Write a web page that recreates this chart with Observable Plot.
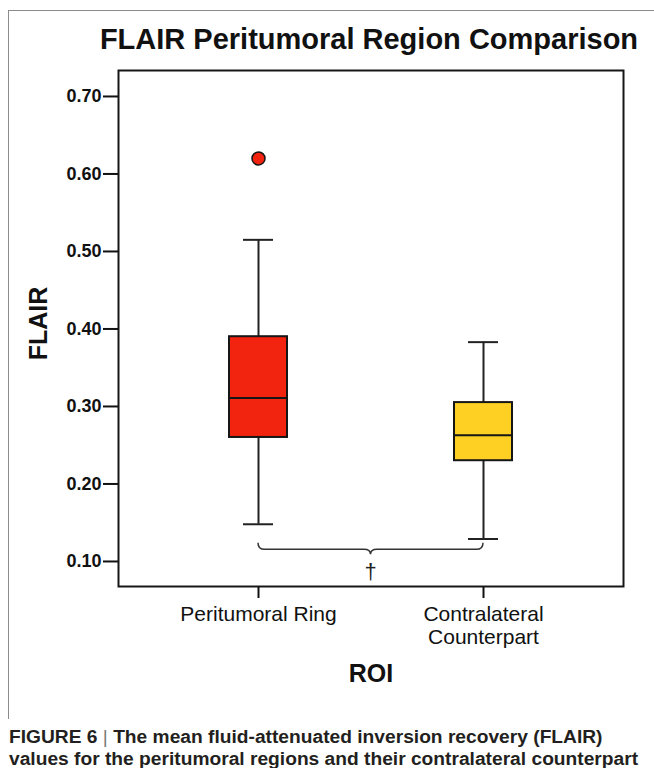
<!DOCTYPE html>
<html>
<head>
<meta charset="utf-8">
<script src="https://cdn.jsdelivr.net/npm/d3@7"></script>
<script src="https://cdn.jsdelivr.net/npm/@observablehq/plot@0.6"></script>
<style>
  html, body { margin: 0; padding: 0; background: #fff; }
  #page { position: relative; width: 654px; height: 768px; overflow: hidden; background: #fff; font-family: "Liberation Sans", Arial, Helvetica, sans-serif; }
  #chart { position: absolute; left: 0; top: 60px; }
  #border { position: absolute; left: 8px; top: 10px; width: 700px; height: 708px; border-top: 1px solid #8c8c8c; border-left: 1px solid #8c8c8c; }
  #title { position: absolute; left: 60px; width: 618px; top: 22px; text-align: center; font-weight: bold; font-size: 29px; line-height: 34px; color: #111; white-space: nowrap; }
  #caption { position: absolute; left: 9px; top: 726px; font-weight: bold; font-size: 19.2px; line-height: 22px; color: #231f20; white-space: nowrap; }
  #caption .bar { font-weight: normal; color: #777; }
</style>
</head>
<body>
<div id="page">
  <div id="chart"></div>
  <div id="border"></div>
  <div id="title">FLAIR Peritumoral Region Comparison</div>
  <div id="caption">FIGURE 6 <span class="bar">|</span> The mean fluid-attenuated inversion recovery (FLAIR)<br>values for the peritumoral regions and their contralateral counterpart</div>
</div>
<script>
// ---- data ----
const categories = ["Peritumoral Ring", "Contralateral Counterpart"];
const tickLabels = ["Peritumoral Ring", "Contralateral\nCounterpart"];
const whiskerLow = [0.148, 0.129];
const q1 = [0.260, 0.230];
const median = [0.311, 0.263];
const q3 = [0.390, 0.305];
const whiskerHigh = [0.515, 0.383];
const outlierCategory = ["Peritumoral Ring"];
const outlierValue = [0.620];
const boxColors = ["#F2230F", "#FDD023"];
const yTicks = [0.10, 0.20, 0.30, 0.40, 0.50, 0.60, 0.70];
const yDomain = [0.0677, 0.7335];
// significance brace (y values in data units) and marker
const braceEndY = 0.1236;
const braceMidY = 0.1151;
const braceTipY = 0.1086;
const markerY = 0.0862;
const markerText = "†";

const boxes = categories.map((c, i) => ({
  cat: c, lo: whiskerLow[i], q1: q1[i], med: median[i], q3: q3[i], hi: whiskerHigh[i], color: boxColors[i]
}));
const outliers = outlierCategory.map((c, i) => ({cat: c, v: outlierValue[i]}));

const plot = Plot.plot({
  width: 654,
  height: 640,
  marginTop: 10,
  marginLeft: 118,
  marginRight: 31,
  marginBottom: 114,
  style: {background: "transparent", fontFamily: "'Liberation Sans', Arial, Helvetica, sans-serif", color: "#111"},
  x: {domain: categories, paddingInner: 0.743, paddingOuter: 0.489, align: 0.5},
  y: {domain: yDomain},
  marks: [
    Plot.frame({stroke: "#161616", strokeWidth: 2}),
    Plot.axisY({ticks: yTicks, tickFormat: d3.format(".2f"), tickSize: 15, tickPadding: 2, fontSize: 18, fontWeight: "bold", strokeWidth: 2, label: null}),
    Plot.axisX({tickFormat: (d) => tickLabels[categories.indexOf(d)], tickSize: 12, tickPadding: 5, fontSize: 21, lineHeight: 1.14, strokeWidth: 2, label: null}),
    Plot.ruleX(boxes, {x: "cat", y1: "lo", y2: "hi", stroke: "#222", strokeWidth: 2}),
    Plot.tickY(boxes, {x: "cat", y: "lo", stroke: "#222", strokeWidth: 2, insetLeft: 14, insetRight: 14}),
    Plot.tickY(boxes, {x: "cat", y: "hi", stroke: "#222", strokeWidth: 2, insetLeft: 14, insetRight: 14}),
    Plot.barY(boxes, {x: "cat", y1: "q1", y2: "q3", fill: "color", stroke: "#161616", strokeWidth: 2}),
    Plot.tickY(boxes, {x: "cat", y: "med", stroke: "#161616", strokeWidth: 2}),
    Plot.dot(outliers, {x: "cat", y: "v", r: 6.5, fill: boxColors[0], stroke: "#161616", strokeWidth: 1.5}),
    Plot.text(["FLAIR"], {frameAnchor: "left", textAnchor: "middle", rotate: -90, dx: -80, dy: -5, fontSize: 25, fontWeight: "bold", fill: "#111"}),
    Plot.text(["ROI"], {frameAnchor: "bottom", dy: 95, fontSize: 25, fontWeight: "bold", fill: "#111"})
  ]
});
document.getElementById("chart").appendChild(plot);

// significance brace drawn through the plot's own scales
const xs = plot.scale("x"), ys = plot.scale("y");
const bw = xs.bandwidth;
const xa = xs.apply(categories[0]) + bw / 2;
const xb = xs.apply(categories[1]) + bw / 2;
const xm = (xa + xb) / 2;
const yE = ys.apply(braceEndY), yM = ys.apply(braceMidY), yT = ys.apply(braceTipY);
const r = yM - yE;
const path = [
  `M${xa},${yE}`,
  `Q${xa},${yM} ${xa + r},${yM}`,
  `L${xm - r},${yM}`,
  `Q${xm},${yM} ${xm},${yT}`,
  `Q${xm},${yM} ${xm + r},${yM}`,
  `L${xb - r},${yM}`,
  `Q${xb},${yM} ${xb},${yE}`
].join(" ");
const ns = "http://www.w3.org/2000/svg";
const p = document.createElementNS(ns, "path");
p.setAttribute("d", path);
p.setAttribute("fill", "none");
p.setAttribute("stroke", "#333");
p.setAttribute("stroke-width", "1.5");
plot.appendChild(p);
const t = document.createElementNS(ns, "text");
t.setAttribute("x", xm);
t.setAttribute("y", ys.apply(markerY));
t.setAttribute("text-anchor", "middle");
t.setAttribute("dy", "0.35em");
t.setAttribute("font-size", "22");
t.setAttribute("fill", "#222");
t.textContent = markerText;
plot.appendChild(t);
</script>
</body>
</html>
